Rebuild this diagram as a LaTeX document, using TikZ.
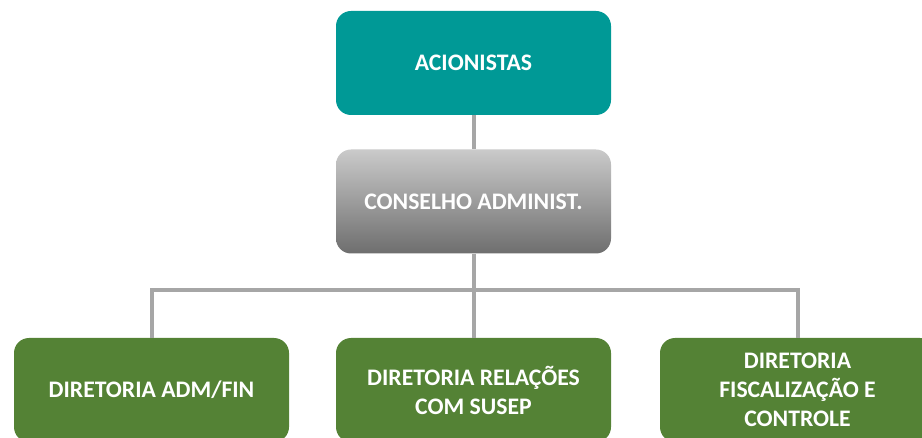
\documentclass[tikz,border=0pt]{standalone}
\usepackage{fontspec}
\setmainfont{Carlito}
\definecolor{tealbox}{RGB}{0,153,150}
\definecolor{greenbox}{RGB}{84,130,53}
\definecolor{linegray}{RGB}{166,166,166}
\definecolor{graytop}{RGB}{202,202,202}
\definecolor{graybot}{RGB}{110,110,110}
\begin{document}
\begin{tikzpicture}[x=1pt,y=-1pt,
  orgbox/.style={rectangle, rounded corners=15pt, draw=none, minimum width=275pt, minimum height=104pt,
    inner sep=0pt, align=center, text=white, font=\fontsize{23.7}{29}\selectfont\bfseries},
  conn/.style={draw=linegray, line width=4pt}]
\clip (0,0) rectangle (922,438);
\node[orgbox, fill=tealbox] (acion) at (473.5,63) {ACIONISTAS};
\node[orgbox, top color=graytop, bottom color=graybot] (cons) at (473.5,201.5) {CONSELHO ADMINIST.};
\node[orgbox, fill=greenbox] (d1) at (151.5,390) {DIRETORIA ADM/FIN};
\node[orgbox, fill=greenbox] (d2) at (473.5,390) {DIRETORIA RELAÇÕES\\COM SUSEP};
\node[orgbox, fill=greenbox] (d3) at (797.5,390) {DIRETORIA\\FISCALIZAÇÃO E\\CONTROLE};
\coordinate (j) at (473.5,290);
\draw[conn] (acion) -- (cons);
\draw[conn] (cons) -- (j);
\draw[conn] (d1.north) |- (j) -| (d3.north);
\draw[conn] (j) -- (d2);
\end{tikzpicture}
\end{document}
